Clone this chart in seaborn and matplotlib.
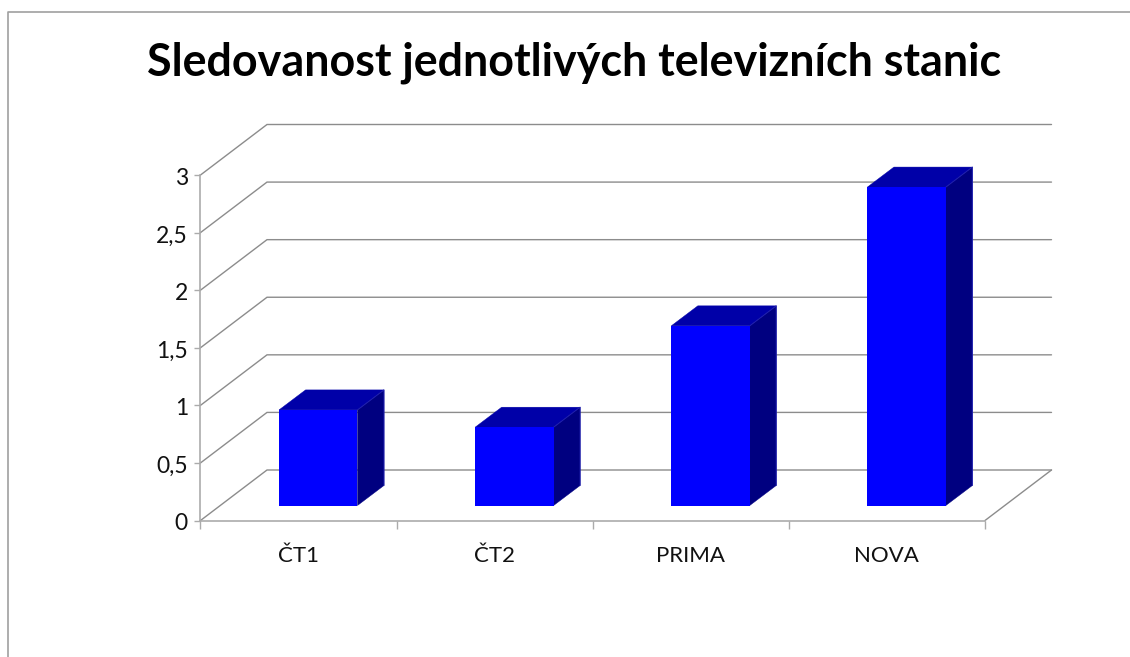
import matplotlib
matplotlib.use("Agg")
import matplotlib.pyplot as plt
from matplotlib.lines import Line2D
from matplotlib.patches import Polygon
from matplotlib.transforms import Affine2D
import seaborn as sns
import pandas as pd

categories = ["ČT1", "ČT2", "PRIMA", "NOVA"]
values = [0.83, 0.68, 1.56, 2.765]
y_ticks = [0, 0.5, 1, 1.5, 2, 2.5, 3]
y_labels = ["0", "0,5", "1", "1,5", "2", "2,5", "3"]
title = "Sledovanost jednotlivých televizních stanic"

W, H = 1130, 657
sns.set_theme(style="white")
plt.rcParams["font.family"] = ["Lato", "DejaVu Sans"]

fig = plt.figure(figsize=(W / 100, H / 100), dpi=100, facecolor="white")
L, R, B, T = 200.5, 985.0, 520.5, 175.0
ax = fig.add_axes([L / W, 1 - B / H, (R - L) / W, (B - T) / H])
ax.patch.set_alpha(0)

df = pd.DataFrame({"station": categories, "value": values})
sns.barplot(data=df, x="station", y="value", color="#0000FF", saturation=1,
            width=0.4, ax=ax, zorder=5, linewidth=0)
ax.set_xlim(-0.5, 3.5)
ax.set_ylim(0, 3)
ax.set_xlabel("")
ax.set_ylabel("")

# pixel -> data scale
sx = 4.0 / (R - L)
sy = 3.0 / (B - T)
WALL_DX, WALL_DY = 66.5, 50.5
BAR_DX, BAR_DY = 19.7, 15.0
DEPTH_DX, DEPTH_DY = 26.5, 20.0

GRID = "#8c8c8c"
AXIS = "#ababab"

# back wall gridlines and side wall / floor diagonals
for yt in y_ticks:
    yb = yt + WALL_DY * sy
    ax.plot([-0.5, -0.5 + WALL_DX * sx, 3.5 + WALL_DX * sx], [yt, yb, yb],
            color=GRID, lw=1.0, clip_on=False, zorder=1, solid_joinstyle="miter")
ax.plot([3.5, 3.5 + WALL_DX * sx], [0, WALL_DY * sy], color=GRID, lw=1.0,
        clip_on=False, zorder=1)

# 3D bars: shift front faces and add top / side faces
shift = Affine2D().translate(BAR_DX, BAR_DY)
for p in list(ax.patches):
    x0, x1 = p.get_x(), p.get_x() + p.get_width()
    h = p.get_height()
    p.set_transform(ax.transData + shift)
    p.set_clip_on(False)
    ddx, ddy = DEPTH_DX * sx, DEPTH_DY * sy
    top = Polygon([(x0, h), (x1, h), (x1 + ddx, h + ddy), (x0 + ddx, h + ddy)],
                  closed=True, facecolor="#0000A8", edgecolor="#0000A8", lw=0.3,
                  transform=ax.transData + shift, clip_on=False, zorder=4)
    side = Polygon([(x1, 0), (x1 + ddx, ddy), (x1 + ddx, h + ddy), (x1, h)],
                   closed=True, facecolor="#000080", edgecolor="#000080", lw=0.3,
                   transform=ax.transData + shift, clip_on=False, zorder=4)
    ax.add_patch(top)
    ax.add_patch(side)
    ax.plot([x1, x1 + ddx, x1 + ddx], [h, h + ddy, ddy], color="#2020B0", lw=0.7,
            transform=ax.transData + shift, clip_on=False, zorder=4.5)

# axes
sns.despine(ax=ax, top=True, right=True)
for s in ("left", "bottom"):
    ax.spines[s].set_color(AXIS)
    ax.spines[s].set_linewidth(1.2)
    ax.spines[s].set_zorder(2)
ax.set_yticks(y_ticks)
ax.set_yticklabels(y_labels)
ax.tick_params(axis="y", length=4, width=1.0, color=AXIS, labelsize=16.5,
               labelcolor="#111111", pad=5, left=True)
for lab in ax.get_yticklabels():
    lab.set_verticalalignment("center_baseline")
    lab.set_transform(lab.get_transform() + Affine2D().translate(0, -1.5))
ax.set_xticks(range(len(categories)))
ax.set_xticklabels(categories)
ax.set_xticks([-0.5, 0.5, 1.5, 2.5, 3.5], minor=True)
ax.tick_params(axis="x", which="major", length=0, labelsize=16, labelcolor="#111111", pad=18)
ax.tick_params(axis="x", which="minor", length=6, width=1.0, color=AXIS, bottom=True)

# chart frame
fig.add_artist(Line2D([8 / W, 8 / W, 1], [0, 1 - 12 / H, 1 - 12 / H],
                      color="#a0a0a0", lw=1.2, transform=fig.transFigure))

fig.text(574 / W, 1 - 76 / H, title, ha="center", va="baseline", fontsize=32.3,
         fontweight="bold", color="black")

fig.savefig("out.png", dpi=100, facecolor="white")
